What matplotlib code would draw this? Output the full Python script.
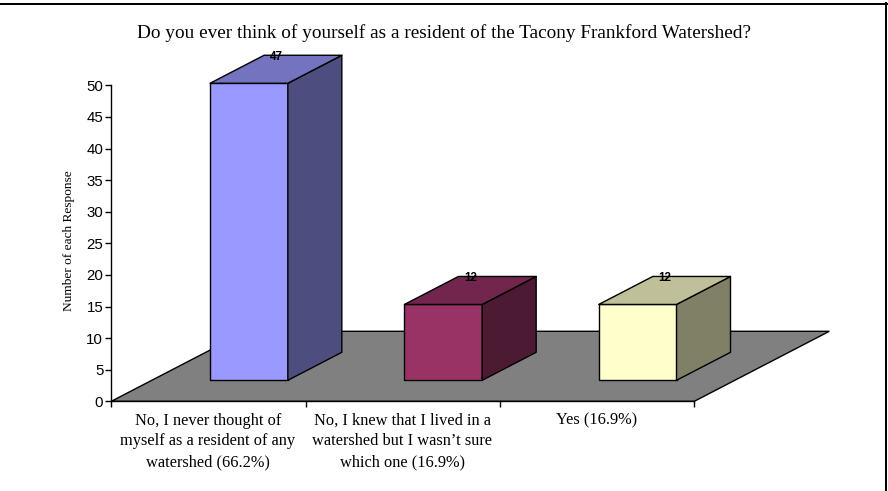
import matplotlib
matplotlib.use("Agg")
import matplotlib.pyplot as plt
from matplotlib.patches import Polygon
from matplotlib.lines import Line2D
from matplotlib.transforms import offset_copy

title = "Do you ever think of yourself as a resident of the Tacony Frankford Watershed?"
ylabel = "Number of each Response"
categories = [
    "No, I never thought of\nmyself as a resident of any\nwatershed (66.2%)",
    "No, I knew that I lived in a\nwatershed but I wasn\u2019t sure\nwhich one (16.9%)",
    "Yes (16.9%)",
]
values = [47, 12, 12]
front_colors = ["#9999FF", "#993366", "#FFFFCC"]
top_colors = ["#7373BF", "#73264D", "#BFBF99"]
side_colors = ["#4D4D80", "#4D1A33", "#808066"]
yticks = [0, 5, 10, 15, 20, 25, 30, 35, 40, 45, 50]

W, H = 888, 491
fig = plt.figure(figsize=(W / 100, H / 100), dpi=100)
x0, x1, y0, y1 = 111.3, 694.3, 401.3, 85.3
ax = fig.add_axes([x0 / W, 1 - y0 / H, (x1 - x0) / W, (y0 - y1) / H])
ax.set_xlim(0, 3)
ax.set_ylim(0, 50)
ax.patch.set_visible(False)

DX = 135 / 194.33   # depth projection, category units
DY = 70 / 6.32      # depth projection, value units
BW = 0.4            # bar width and depth


def proj(x, y, d):
    return (x + d * DX, y + d * DY)


ax.add_patch(Polygon([proj(0, 0, 0), proj(3, 0, 0), proj(3, 0, 1), proj(0, 0, 1)],
                     fc="#808080", ec="black", lw=1.0, clip_on=False, zorder=1, joinstyle="miter"))

for i, v in enumerate(values):
    l, r = i + 0.5 - BW / 2, i + 0.5 + BW / 2
    dn, df = 0.3, 0.7
    kw = dict(ec="black", lw=1.0, clip_on=False, zorder=2, joinstyle="round")
    ax.add_patch(Polygon([proj(l, 0, dn), proj(r, 0, dn), proj(r, v, dn), proj(l, v, dn)],
                         fc=front_colors[i], **kw))
    ax.add_patch(Polygon([proj(r, 0, dn), proj(r, 0, df), proj(r, v, df), proj(r, v, dn)],
                         fc=side_colors[i], **kw))
    ax.add_patch(Polygon([proj(l, v, dn), proj(r, v, dn), proj(r, v, df), proj(l, v, df)],
                         fc=top_colors[i], **kw))
    tx, ty = proj(i + 0.5, v, df)
    ax.text(tx - (df - 0.5) * DX, ty, str(v), ha="center", va="center", fontsize=8.4,
            fontweight="bold", family="Liberation Sans", color="black", zorder=5, clip_on=False,
            transform=offset_copy(ax.transData, fig=fig, x=0, y=-1.5, units="dots"))

for s in ("top", "right"):
    ax.spines[s].set_visible(False)
for s in ("left", "bottom"):
    ax.spines[s].set_linewidth(1.0)
    ax.spines[s].set_zorder(3)

ax.set_yticks(yticks)
ax.tick_params(axis="y", length=4.3, width=1, pad=1.5, labelsize=10.8, labelcolor="black")
for t in ax.get_yticklabels():
    t.set_family("Liberation Sans")

ax.set_xticks([0, 1, 2, 3])
ax.set_xticklabels([])
ax.tick_params(axis="x", length=4.5, width=1)
for i, c in enumerate(categories):
    ax.text(i + 0.496, -0.036, c, transform=ax.get_xaxis_transform(), ha="center", va="top",
            family="Liberation Serif", fontsize=11.8, linespacing=1.4, color="black")

fig.text(443.5 / W, 1 - 33 / H, title, ha="center", va="center", family="Liberation Serif",
         fontsize=13.9, color="black")
fig.text(69 / W, 1 - 241 / H, ylabel, rotation=90, ha="center", va="center",
         family="Liberation Serif", fontsize=9.6, color="black")

# frame of the picture
fig.add_artist(Line2D([0, 887 / W], [1 - 4.3 / H, 1 - 4.3 / H], color="black", lw=1.44,
                      transform=fig.transFigure))
fig.add_artist(Line2D([886 / W, 886 / W], [1 - 3.3 / H, 0], color="black", lw=1.44,
                      transform=fig.transFigure))

fig.savefig("out.png", dpi=100)
